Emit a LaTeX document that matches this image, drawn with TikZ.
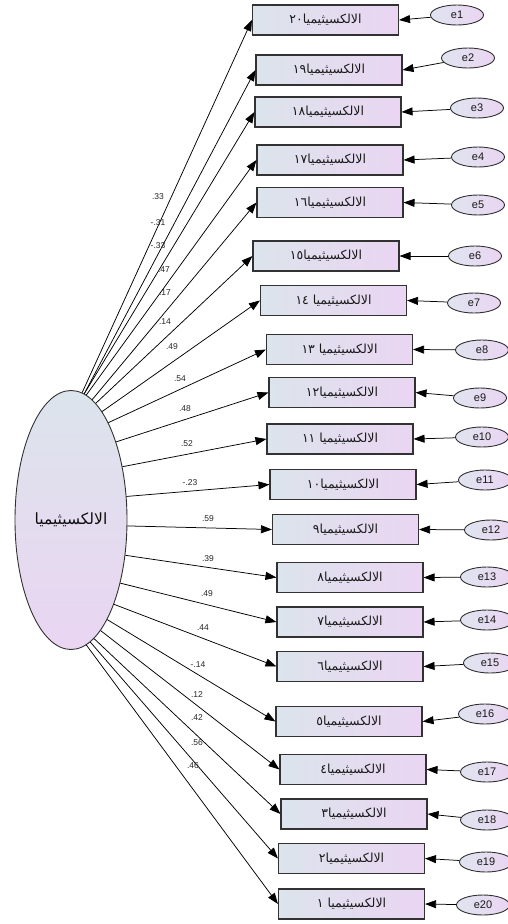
\documentclass[tikz,border=0pt]{standalone}
\usepackage{fontspec}
\setmainfont{Liberation Sans}
\newfontfamily\arabicfont[Script=Arabic]{DejaVu Sans}
\TeXXeTstate=1
\usetikzlibrary{arrows.meta,shapes.geometric}
\definecolor{lblue}{RGB}{220,228,236}
\definecolor{lpurp}{RGB}{234,213,242}
\definecolor{eblue}{RGB}{224,228,240}
\definecolor{edgec}{RGB}{50,50,50}
\newcommand{\ar}[1]{\beginR #1\endR}
\tikzset{
  obs/.style={rectangle, draw=edgec, line width=1.1pt, left color=lblue, right color=lpurp,
    minimum width=146pt, minimum height=30pt, inner sep=0pt, text=black!90,
    font=\arabicfont\fontsize{12.5}{14}\selectfont},
  err/.style={ellipse, draw=edgec, line width=0.9pt, left color=eblue, right color=lpurp,
    minimum width=53pt, minimum height=20pt, inner sep=0pt, text=black!90,
    font=\fontsize{11}{13}\selectfont},
  lat/.style={ellipse, draw=edgec, line width=0.9pt, top color=lblue, bottom color=lpurp,
    minimum width=112pt, minimum height=259pt, inner sep=0pt, text=black!95,
    font=\arabicfont\fontsize{15.5}{18}\selectfont},
  pth/.style={-{Triangle[length=11pt,width=8pt]}, line width=0.75pt, black},
  coef/.style={font=\fontsize{8.5}{10}\selectfont, inner sep=0pt, text=black!85}
}
\begin{document}
\begin{tikzpicture}[x=1pt,y=-1pt]
\fill[white] (0,0) rectangle (508,924);
\useasboundingbox (0,0) rectangle (508,924);

% latent variable
\node[lat] (F) at (71,520) {\ar{الالكسيثيميا}};

% observed variables
\node[obs] (b1)  at (325.5,20)  {\ar{الالكسيثيميا\beginL٢٠\endL}};
\node[obs] (b2)  at (329,70)    {\ar{الالكسيثيميا\beginL١٩\endL}};
\node[obs] (b3)  at (328,112)   {\ar{الالكسيثيميا\beginL١٨\endL}};
\node[obs] (b4)  at (330,160)   {\ar{الالكسيثيميا\beginL١٧\endL}};
\node[obs] (b5)  at (330,202.5) {\ar{الالكسيثيميا\beginL١٦\endL}};
\node[obs] (b6)  at (326,256)   {\ar{الالكسيثيميا\beginL١٥\endL}};
\node[obs] (b7)  at (333.5,300.5) {\ar{الالكسيثيميا \beginL١٤\endL}};
\node[obs] (b8)  at (339.5,349.5) {\ar{الالكسيثيميا \beginL١٣\endL}};
\node[obs] (b9)  at (342,392.5) {\ar{الالكسيثيميا\beginL١٢\endL}};
\node[obs] (b10) at (340,439)   {\ar{الالكسيثيميا \beginL١١\endL}};
\node[obs] (b11) at (343,484.5) {\ar{الالكسيثيميا\beginL١٠\endL}};
\node[obs] (b12) at (345.5,529.5) {\ar{الالكسيثيميا\beginL٩\endL}};
\node[obs] (b13) at (350,577.5) {\ar{الالكسيثيميا\beginL٨\endL}};
\node[obs] (b14) at (350,622)   {\ar{الالكسيثيميا\beginL٧\endL}};
\node[obs] (b15) at (350,666.5) {\ar{الالكسيثيميا\beginL٦\endL}};
\node[obs] (b16) at (349,721.5) {\ar{الالكسيثيميا\beginL٥\endL}};
\node[obs] (b17) at (353,769.5) {\ar{الالكسيثيميا\beginL٤\endL}};
\node[obs] (b18) at (354,814)   {\ar{الالكسيثيميا\beginL٣\endL}};
\node[obs] (b19) at (351.5,858.5) {\ar{الالكسيثيميا\beginL٢\endL}};
\node[obs] (b20) at (351.5,904) {\ar{الالكسيثيميا \beginL١\endL}};

% error terms
\node[err] (e1)  at (457,15)  {e1};
\node[err] (e2)  at (468,58)  {e2};
\node[err] (e3)  at (477,108) {e3};
\node[err] (e4)  at (478,157) {e4};
\node[err] (e5)  at (478,205) {e5};
\node[err] (e6)  at (475,256) {e6};
\node[err] (e7)  at (474,303) {e7};
\node[err] (e8)  at (482,350) {e8};
\node[err] (e9)  at (480,398) {e9};
\node[err] (e10) at (482,437) {e10};
\node[err] (e11) at (485,480) {e11};
\node[err] (e12) at (491,530) {e12};
\node[err] (e13) at (487,577) {e13};
\node[err] (e14) at (487,620) {e14};
\node[err] (e15) at (490,663) {e15};
\node[err] (e16) at (485,714) {e16};
\node[err] (e17) at (487,772) {e17};
\node[err] (e18) at (487,820) {e18};
\node[err] (e19) at (486,862) {e19};
\node[err] (e20) at (483,905) {e20};

% loadings
\draw[pth] (F.85)   -- (b1.west);
\draw[pth] (F.84.5) -- (b2.west);
\draw[pth] (F.84)   -- (b3.west);
\draw[pth] (F.83)   -- (b4.west);
\draw[pth] (F.80.8) -- (b5.west);
\draw[pth] (F.78.6) -- (b6.west);
\draw[pth] (F.74.7) -- (b7.west);
\draw[pth] (F.69.1) -- (b8.west);
\draw[pth] (F.60.9) -- (b9.west);
\draw[pth] (F.46.6) -- (b10.west);
\draw[pth] (F.23.6) -- (b11.west);
\draw[pth] (F.-6.1) -- (b12.west);
\draw[pth] (F.-33.7) -- (b13.west);
\draw[pth] (F.-52.1) -- (b14.west);
\draw[pth] (F.-63.7) -- (b15.west);
\draw[pth] (F.-70.7) -- (b16.west);
\draw[pth] (F.-75.2) -- (b17.west);
\draw[pth] (F.-79)   -- (b18.west);
\draw[pth] (F.-81.7) -- (b19.west);
\draw[pth] (F.-83.2) -- (b20.west);

% error paths
\foreach \i in {1,...,20} { \draw[pth] (e\i) -- (b\i.east); }

% coefficients
\node[coef] (c1)  at (158,197) {.33};
\node[coef] (c2)  at (158,223) {-.31};
\node[coef] (c3)  at (158,246) {-.33};
\node[coef] (c4)  at (164,270) {.47};
\node[coef] (c5)  at (165,293) {.17};
\node[coef] (c6)  at (165,322) {.14};
\node[coef] (c7)  at (172,347) {.49};
\node[coef] (c8)  at (180,379) {.54};
\node[coef] (c9)  at (185,409) {.48};
\node[coef] (c10) at (187,444) {.52};
\node[coef] (c11) at (190,483) {-.23};
\node[coef] (c12) at (208,519) {.59};
\node[coef] (c13) at (208,559) {.39};
\node[coef] (c14) at (207,594) {.49};
\node[coef] (c15) at (203,628) {.44};
\node[coef] (c16) at (198,665) {-.14};
\node[coef] (c17) at (197,695) {.12};
\node[coef] (c18) at (197,718) {.42};
\node[coef] (c19) at (197,743) {.56};
\node[coef] (c20) at (193,766) {.46};
\end{tikzpicture}
\end{document}
